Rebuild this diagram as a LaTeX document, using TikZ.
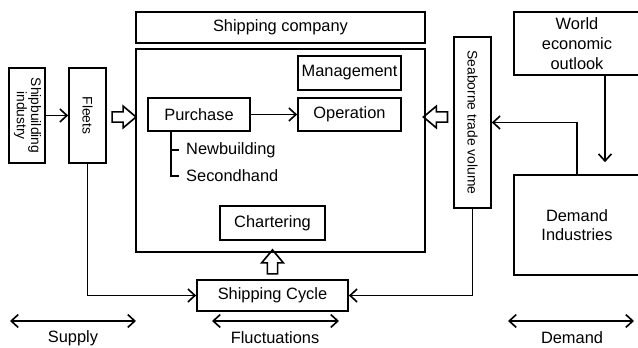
\documentclass[tikz,border=0pt]{standalone}
\usepackage{fontspec}
\setmainfont{Liberation Sans}
\usetikzlibrary{arrows.meta,shapes.arrows,calc}

\begin{document}
\begin{tikzpicture}[x=0.03cm, y=-0.03cm,
    box/.style={draw, line width=1.4pt, inner sep=0pt, align=center,
        font=\fontsize{14}{16.5}\selectfont},
    sidebox/.style={box, font=\fontsize{11.8}{11.5}\selectfont},
    line/.style={line width=1.4pt},
    arr/.style={line, -{Straight Barb[length=6pt, width=11pt, line width=1.4pt]}},
    span/.style={line, {Straight Barb[length=6pt, width=11pt, line width=1.4pt]}-{Straight Barb[length=6pt, width=11pt, line width=1.4pt]}},
    hollow/.style={single arrow, draw, line width=1.4pt, inner sep=0.13cm,
        minimum height=0.72cm, minimum width=0.62cm,
        single arrow head extend=0.17cm, single arrow tip angle=80},
    lbl/.style={font=\fontsize{14}{16.5}\selectfont}]

    \useasboundingbox (0,0) rectangle (638,348);
    \clip (0,0) rectangle (638,348);

    % Shipping company and its departments
    \node[box, minimum width=8.67cm, minimum height=0.93cm] (company) at (280.5,27.5) {Shipping company};
    \node[box, minimum width=8.67cm, minimum height=6.09cm] (firm) at (280.5,150.5) {};
    \node[box, minimum width=3.09cm, minimum height=1.02cm] (mgmt) at (349.5,73) {Management};
    \node[box, minimum width=3.09cm, minimum height=0.99cm] (oper) at (349.5,114.5) {Operation};
    \node[box, minimum width=3.06cm, minimum height=0.99cm] (purch) at (199,114.5) {Purchase};
    \node[box, minimum width=3.15cm, minimum height=1.02cm] (charter) at (272.5,223) {Chartering};
    \node[lbl, anchor=west, inner sep=0pt] (newb) at (186,150) {Newbuilding};
    \node[lbl, anchor=west, inner sep=0pt] (second) at (186,176) {Secondhand};

    % Cycle box below the company
    \node[box, minimum width=4.53cm, minimum height=0.93cm] (cycle) at (272.5,295.5) {Shipping Cycle};

    % Supply side
    \node[sidebox, minimum width=1.08cm, minimum height=2.85cm] (yard) at (27,115.5)
        {\rotatebox{-90}{\begin{tabular}{@{}c@{}}Shipbuilding\\industry\end{tabular}}};
    \node[sidebox, minimum width=1.11cm, minimum height=2.85cm] (fleets) at (87.5,115.5) {\rotatebox{-90}{Fleets}};

    % Demand side
    \node[sidebox, minimum width=1.11cm, minimum height=5.13cm] (trade) at (472.5,122.5) {\rotatebox{-90}{Seaborne trade volume}};
    \node[box, font=\fontsize{14}{17}\selectfont, minimum width=3.78cm, minimum height=1.89cm] (world) at (577,43.5) {World\\economic\\outlook};
    \node[box, minimum width=3.78cm, minimum height=3cm] (demand) at (577,225) {Demand\\Industries};

    % Purchase split into two markets
    \coordinate (stem) at ($(purch.south west)+(24,0)$);
    \draw[line] (stem) |- ([xshift=-0.21cm]second.west);
    \draw[line] (stem |- newb.west) -- ([xshift=-0.21cm]newb.west);

    % Connectors
    \draw[arr] (yard) -- (fleets);
    \draw[arr] (purch) -- (oper);
    \draw[arr] (fleets.south) |- (cycle.west);
    \draw[arr] (trade.south) |- (cycle.east);
    \draw[arr] (demand.north) |- (trade.east);
    \draw[arr, shorten >=0.36cm] ([xshift=0.84cm]world.south) -- ([xshift=0.84cm]demand.north);

    % Hollow arrows into the company
    \node[hollow] (inleft) at (121,117) {};
    \node[hollow, shape border rotate=180] (inright) at (438.5,117) {};
    \node[hollow, shape border rotate=90] (inup) at (272.5,265) {};

    % Ranges along the bottom
    \coordinate (supL) at (10,321);
    \coordinate (supR) at (136,321);
    \coordinate (fluL) at (212,321);
    \coordinate (fluR) at (339,321);
    \coordinate (demL) at (508,321);
    \coordinate (demR) at (634,321);
    \draw[span] (supL) -- (supR);
    \draw[span] (fluL) -- (fluR);
    \draw[span] (demL) -- (demR);
    \node[lbl] (supply) at (73,338) {Supply};
    \node[lbl] (fluct) at (275,338) {Fluctuations};
    \node[lbl] (dem) at (572,338) {Demand};
\end{tikzpicture}
\end{document}
